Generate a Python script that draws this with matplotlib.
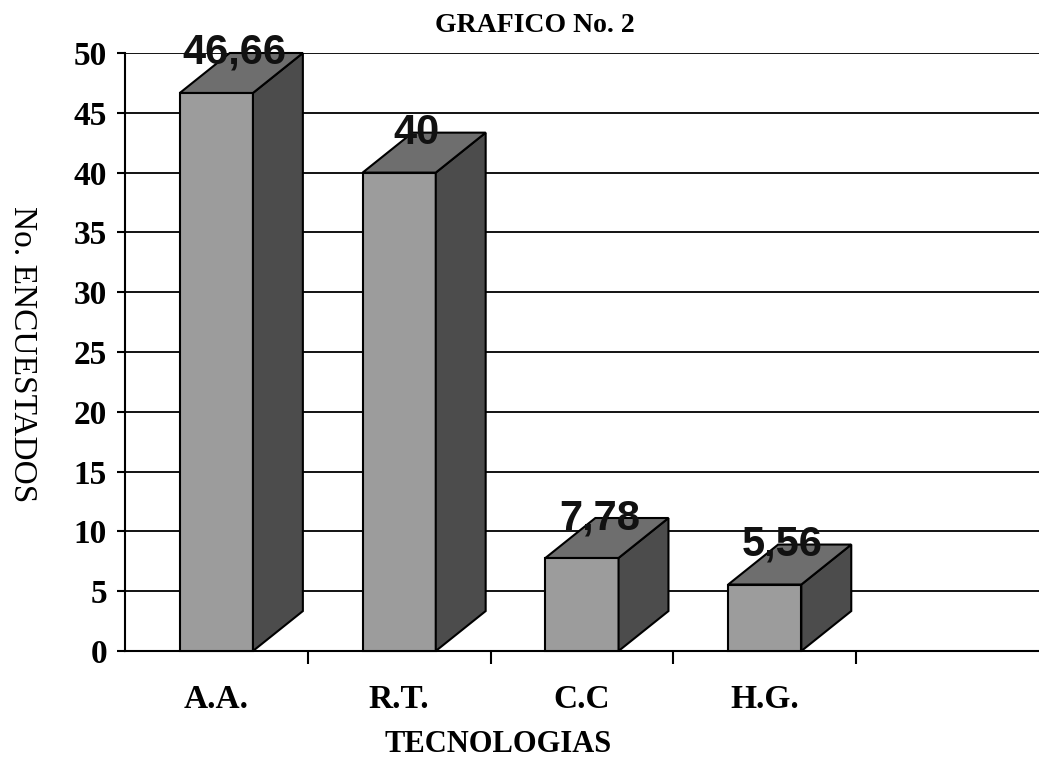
import numpy as np
import matplotlib.pyplot as plt
from matplotlib.patches import Polygon

# Data
categorias = ['A.A.', 'R.T.', 'C.C', 'H.G.']
valores = [46.66, 40, 7.78, 5.56]
etiquetas = ['46,66', '40', '7,78', '5,56']

# 3D look: bar width and depth offset (in data units)
ancho = 0.40
dx, dy = 0.273, 3.34
c_frente = '#9c9c9c'
c_lado = '#4c4c4c'
c_tope = '#6e6e6e'

fig = plt.figure(figsize=(10.39, 7.63), dpi=100)
ax = fig.add_axes([125/1039, 112/763, 914/1039, 598/763])

ax.set_xlim(0, 5)
ax.set_ylim(0, 50)

# horizontal grid
for g in range(5, 55, 5):
    ax.axhline(g, color='black', lw=1.3, zorder=1)

centros = np.arange(len(categorias)) + 0.5
for xc, v, lab in zip(centros, valores, etiquetas):
    x0, x1 = xc - ancho/2, xc + ancho/2
    frente = Polygon([(x0, 0), (x1, 0), (x1, v), (x0, v)], closed=True,
                     facecolor=c_frente, edgecolor='black', lw=1.5, zorder=3)
    lado = Polygon([(x1, 0), (x1+dx, dy), (x1+dx, v+dy), (x1, v)], closed=True,
                   facecolor=c_lado, edgecolor='black', lw=1.5, zorder=3)
    tope = Polygon([(x0, v), (x1, v), (x1+dx, v+dy), (x0+dx, v+dy)], closed=True,
                   facecolor=c_tope, edgecolor='black', lw=1.5, zorder=3)
    for p in (frente, lado, tope):
        p.set_clip_on(False)
        ax.add_patch(p)
    ax.text(xc + dx/2 - 0.04, v + dy, lab, ha='center', va='center',
            fontsize=30, fontweight='bold', family='Liberation Sans',
            color='#111111', zorder=5)

# axes styling
for s in ('top', 'right'):
    ax.spines[s].set_visible(False)
ax.spines['left'].set_linewidth(1.5)
ax.spines['bottom'].set_linewidth(1.5)
ax.spines['left'].set_zorder(4)

ax.set_yticks(range(0, 55, 5))
ax.set_yticklabels([str(t) for t in range(0, 55, 5)],
                   fontsize=24, fontweight='bold', family='Liberation Serif')
ax.tick_params(axis='y', length=6, width=1.5, pad=7)

ax.set_xticks(centros)
ax.set_xticklabels(categorias, fontsize=24, fontweight='bold', family='Liberation Serif')
ax.tick_params(axis='x', which='major', length=0, pad=24)
ax.set_xticks([1, 2, 3, 4], minor=True)
ax.tick_params(axis='x', which='minor', length=9, width=1.5, direction='out')

fig.text(535/1039, 1 - 26/763, 'GRAFICO No. 2', ha='center', va='center',
         fontsize=20, fontweight='bold', family='Liberation Serif')
fig.text(498/1039, 1 - 745/763, 'TECNOLOGIAS', ha='center', va='center',
         fontsize=22, fontweight='bold', family='Liberation Serif')
fig.text(22/1039, 1 - 354/763, 'No. ENCUESTADOS', ha='center', va='center',
         rotation=270, fontsize=24, family='Liberation Serif')

fig.savefig('out.png', dpi=100)
